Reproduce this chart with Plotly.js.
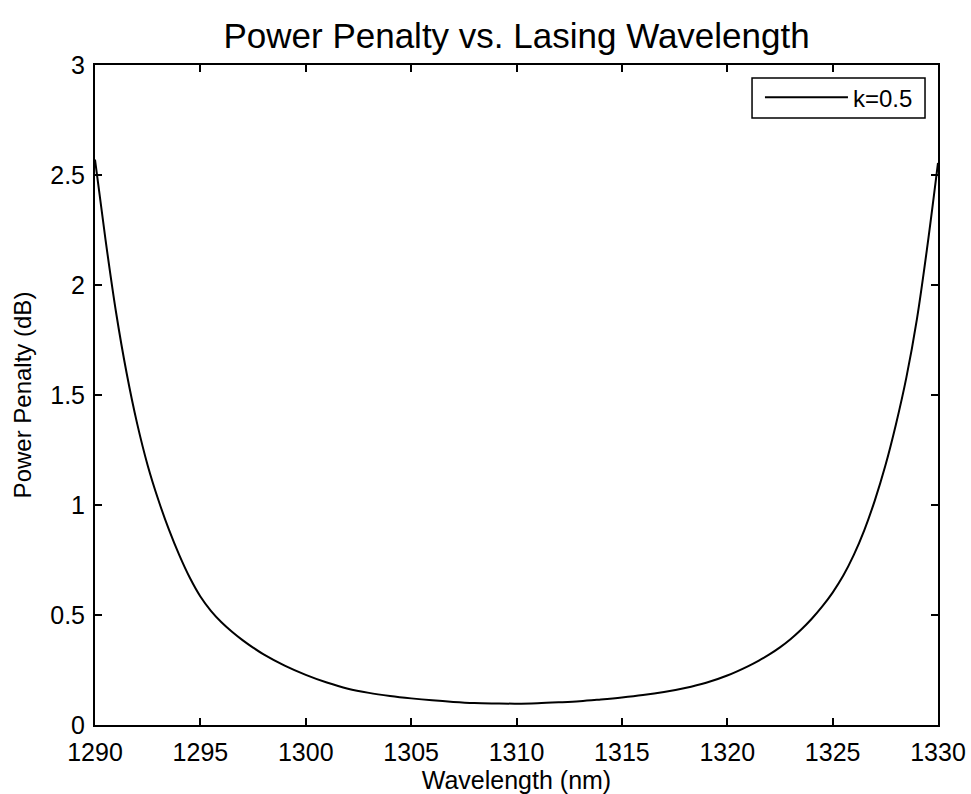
<!DOCTYPE html>
<html>
<head>
<meta charset="utf-8">
<script src="https://cdn.plot.ly/plotly-3.0.1.min.js"></script>
<style>html,body{margin:0;padding:0;background:#fff;}#chart{width:971px;height:794px;}</style>
</head>
<body>
<div id="chart"></div>
<script>
const wavelength = [1290.0,1290.5,1291.0,1291.5,1292.0,1292.5,1293.0,1293.5,1294.0,1294.5,1295.0,1295.5,1296.0,1296.5,1297.0,1297.5,1298.0,1299.0,1300.0,1301.0,1302.0,1303.0,1304.0,1305.0,1306.0,1307.0,1308.0,1309.0,1310.0,1311.0,1312.0,1313.0,1314.0,1315.0,1316.0,1317.0,1318.0,1319.0,1320.0,1321.0,1321.5,1322.0,1322.5,1323.0,1323.5,1324.0,1324.5,1325.0,1325.5,1326.0,1326.5,1327.0,1327.5,1328.0,1328.5,1329.0,1329.5,1330.0];
const penalty = [2.57,2.205,1.875,1.60,1.37,1.18,1.025,0.89,0.772,0.669,0.584,0.519,0.467,0.424,0.386,0.352,0.321,0.270,0.228,0.193,0.165,0.146,0.132,0.121,0.112,0.105,0.100,0.098,0.097,0.099,0.103,0.108,0.116,0.125,0.136,0.150,0.168,0.192,0.225,0.268,0.293,0.321,0.353,0.390,0.433,0.482,0.538,0.602,0.678,0.772,0.885,1.020,1.178,1.365,1.580,1.845,2.180,2.555];
const seriesName = 'k=0.5';
const xTicks = [1290,1295,1300,1305,1310,1315,1320,1325,1330];
const yTicks = [0,0.5,1,1.5,2,2.5,3];

const font = 'Liberation Sans, Arial, Helvetica, sans-serif';
const trace = {
  x: wavelength, y: penalty, name: seriesName, type: 'scatter', mode: 'lines',
  line: {color: '#000', width: 2, shape: 'spline', smoothing: 1}
};
const axisCommon = {
  showline: true, linecolor: '#000', linewidth: 2, mirror: 'ticks',
  ticks: 'inside', ticklen: 7, tickwidth: 2, tickcolor: '#000',
  showgrid: false, zeroline: false,
  tickfont: {family: font, size: 25, color: '#000'}
};
const layout = {
  width: 971, height: 794,
  margin: {l: 95, r: 33, t: 65, b: 69},
  paper_bgcolor: '#fff', plot_bgcolor: '#fff',
  title: {text: 'Power Penalty vs. Lasing Wavelength', font: {family: font, size: 35, color: '#000'},
          x: 0.532, xanchor: 'center', y: 0.955, yanchor: 'middle', yref: 'container'},
  xaxis: Object.assign({}, axisCommon, {
    range: [1290, 1330], tickvals: xTicks, ticktext: xTicks.map(String), ticklabelstandoff: 4,
    title: {text: 'Wavelength (nm)', font: {family: font, size: 25, color: '#000'}, standoff: 5}
  }),
  yaxis: Object.assign({}, axisCommon, {
    range: [0, 3], tickvals: yTicks, ticktext: yTicks.map(String), ticklabelstandoff: 3,
    title: {text: 'Power Penalty (dB)', font: {family: font, size: 24, color: '#000'}, standoff: 12}
  }),
  shapes: [{type: 'rect', xref: 'paper', yref: 'paper', x0: 0.7794, x1: 0.9846, y0: 0.9197, y1: 0.9803,
            line: {color: '#000', width: 1.5}, fillcolor: '#fff', layer: 'above'}],
  showlegend: true,
  legend: {x: 0.7888, y: 0.9848, xanchor: 'left', yanchor: 'top', bgcolor: 'rgba(0,0,0,0)',
           borderwidth: 0, itemwidth: 83,
           font: {family: font, size: 24, color: '#000'}}
};
Plotly.newPlot('chart', [trace], layout, {displayModeBar: false, staticPlot: true});
</script>
</body>
</html>
